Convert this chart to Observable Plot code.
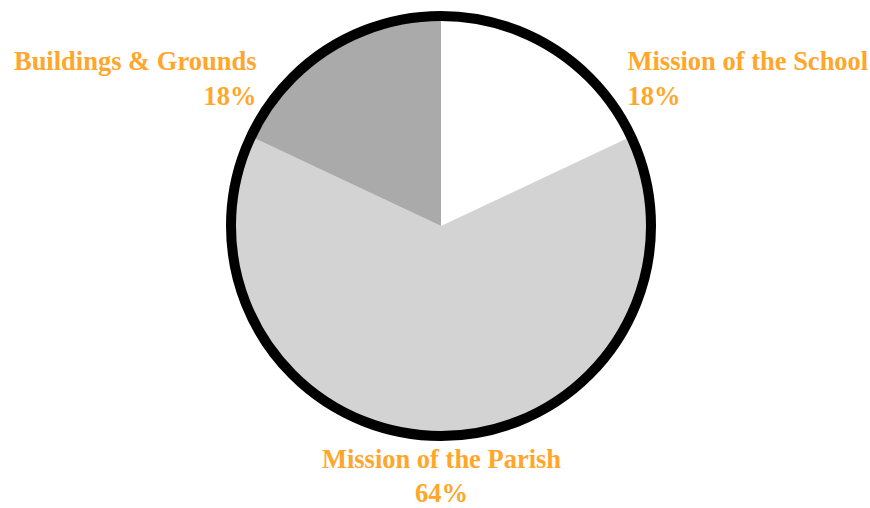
<!DOCTYPE html>
<html><head><meta charset="utf-8">
<script src="https://cdn.jsdelivr.net/npm/d3@7"></script>
<script src="https://cdn.jsdelivr.net/npm/@observablehq/plot@0.6"></script>
<style>body{margin:0;background:#fff}</style>
</head><body><div id="chart"></div>
<script>
// Data
const categories = ["Mission of the School", "Mission of the Parish", "Buildings & Grounds"];
const shares = [18, 64, 18];
const percentLabels = ["18%", "64%", "18%"];

// Styles / layout (kept separate from data)
const sliceColors = ["#ffffff", "#d3d3d3", "#aaaaaa"];
const labelColor = "#ffa62b";
const R = 210;          // pie radius in plot units (pixels offset from centre)
const ringWidth = 10;
const labelLayout = {
  "Mission of the School": {x: 186, y: -182, anchor: "start", lh: 1.33},
  "Mission of the Parish": {x: 0, y: 217, anchor: "middle", lh: 1.29},
  "Buildings & Grounds": {x: -185, y: -182, anchor: "end", lh: 1.33}
};

const table = categories.map((c, i) => ({
  category: c, share: shares[i], pct: percentLabels[i], color: sliceColors[i],
  lx: labelLayout[c].x, ly: labelLayout[c].y, anchor: labelLayout[c].anchor, lh: labelLayout[c].lh
}));

function pieMark(index, scales, values, dimensions, context) {
  const cx = scales.x(0), cy = scales.y(0);
  const r = scales.x(R) - scales.x(0);
  const arcs = d3.pie().sort(null).value(d => d.share)(table);
  const arc = d3.arc().innerRadius(0).outerRadius(r);
  const g = d3.create("svg:g").attr("transform", `translate(${cx},${cy})`);
  g.selectAll("path").data(arcs).join("path")
    .attr("d", arc)
    .attr("fill", d => d.data.color);
  g.append("circle").attr("r", r).attr("fill", "none")
    .attr("stroke", "black").attr("stroke-width", ringWidth);
  return g.node();
}

const textFor = anchor => {
  const rows = table.filter(d => d.anchor === anchor);
  return Plot.text(rows, {
    x: "lx", y: "ly",
    text: d => `${d.category}\n${d.pct}`,
    textAnchor: anchor, lineAnchor: "top", lineHeight: rows[0].lh,
    fill: labelColor, fontWeight: "bold", fontSize: 26.5,
    fontFamily: "'Liberation Serif', 'Times New Roman', serif"
  });
};

const chart = Plot.plot({
  width: 870, height: 508,
  margin: 0,
  x: {domain: [-441, 429], range: [0, 870], axis: null},
  y: {domain: [-226, 282], range: [0, 508], axis: null},
  style: {background: "white", overflow: "visible"},
  marks: [
    pieMark,
    textFor("start"),
    textFor("middle"),
    textFor("end")
  ]
});
document.getElementById("chart").append(chart);
</script>
</body></html>
